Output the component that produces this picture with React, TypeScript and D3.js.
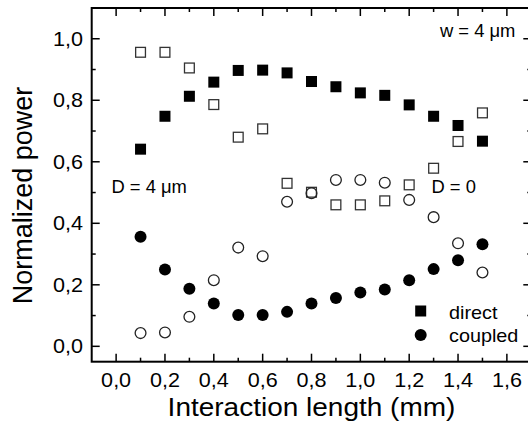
import React from "react";
import * as d3 from "d3";

const xs = [0.1, 0.2, 0.3, 0.4, 0.5, 0.6, 0.7, 0.8, 0.9, 1.0, 1.1, 1.2, 1.3, 1.4, 1.5];
const directD4 = [0.641, 0.748, 0.813, 0.859, 0.897, 0.898, 0.889, 0.861, 0.844, 0.824, 0.816, 0.785, 0.748, 0.718, 0.667];
const coupledD4 = [0.356, 0.25, 0.187, 0.139, 0.102, 0.102, 0.112, 0.139, 0.157, 0.175, 0.185, 0.215, 0.251, 0.28, 0.332];
const directD0 = [0.956, 0.956, 0.905, 0.786, 0.68, 0.707, 0.53, 0.501, 0.46, 0.46, 0.473, 0.525, 0.579, 0.666, 0.759];
const coupledD0 = [0.043, 0.045, 0.096, 0.215, 0.321, 0.293, 0.47, 0.498, 0.541, 0.541, 0.532, 0.476, 0.42, 0.335, 0.24];
const xMajor = [0, 0.2, 0.4, 0.6, 0.8, 1.0, 1.2, 1.4, 1.6];
const xMinor = [0.1, 0.3, 0.5, 0.7, 0.9, 1.1, 1.3, 1.5];
const yMajor = [0, 0.2, 0.4, 0.6, 0.8, 1.0];
const yMinor = [0.1, 0.3, 0.5, 0.7, 0.9];

const fmt = (v: number) => v.toFixed(1).replace(".", ",");

export default function App() {
  const W = 528, H = 434;
  const L = 91.7, R = 531.3, T = 8, B = 361.7;
  const x = d3.scaleLinear().domain([-0.1, 1.7]).range([L, R]);
  const y = d3.scaleLinear().domain([-0.05, 1.1]).range([B, T]);
  const font = "'Liberation Sans', Arial, sans-serif";
  const sq = 11, cr = 6;

  const HText = (p: { x: number; y: number; size: number; anchor?: string; children: any; s: number }) => (
    <text
      transform={`translate(${p.x},${p.y}) scale(${p.s},1)`}
      fontSize={p.size}
      textAnchor={p.anchor ?? "start"}
      fontFamily={font}
      fill="#000"
    >
      {p.children}
    </text>
  );

  return (
    <svg width={W} height={H} style={{ position: "absolute", left: 0, top: 0 }}>
      <rect x={0} y={0} width={W} height={H} fill="#fff" />
      <g stroke="#000" strokeWidth={1.5}>
        {xMajor.map((v) => (
          <g key={"xM" + v}>
            <line x1={x(v)} x2={x(v)} y1={B} y2={B - 8} />
            <line x1={x(v)} x2={x(v)} y1={T} y2={T + 8} />
          </g>
        ))}
        {xMinor.map((v) => (
          <g key={"xm" + v}>
            <line x1={x(v)} x2={x(v)} y1={B} y2={B - 4} />
            <line x1={x(v)} x2={x(v)} y1={T} y2={T + 4} />
          </g>
        ))}
        {yMajor.map((v) => (
          <g key={"yM" + v}>
            <line x1={L} x2={L + 8} y1={y(v)} y2={y(v)} />
            <line x1={R} x2={R - 8} y1={y(v)} y2={y(v)} />
          </g>
        ))}
        {yMinor.map((v) => (
          <g key={"ym" + v}>
            <line x1={L} x2={L + 4} y1={y(v)} y2={y(v)} />
            <line x1={R} x2={R - 4} y1={y(v)} y2={y(v)} />
          </g>
        ))}
      </g>
      <rect x={L} y={T} width={R - L} height={B - T} fill="none" stroke="#000" strokeWidth={2} />

      {xMajor.map((v) => (
        <HText key={"xl" + v} x={x(v)} y={387} size={20} anchor="middle" s={1.08}>
          {fmt(v)}
        </HText>
      ))}
      {yMajor.map((v) => (
        <HText key={"yl" + v} x={83} y={y(v) + 7} size={20} anchor="end" s={1.08}>
          {fmt(v)}
        </HText>
      ))}

      <HText x={311.5} y={416} size={25} anchor="middle" s={1.12}>
        Interaction length (mm)
      </HText>
      <text
        transform="translate(32,195.5) rotate(-90)"
        fontSize={27}
        textAnchor="middle"
        fontFamily={font}
      >
        Normalized power
      </text>

      {xs.map((v, i) => (
        <rect
          key={"od" + i}
          x={x(v) - sq / 2 + 0.6}
          y={y(directD0[i]) - sq / 2 + 0.6}
          width={sq - 1.2}
          height={sq - 1.2}
          fill="none"
          stroke="#333"
          strokeWidth={1.3}
        />
      ))}
      {xs.map((v, i) => (
        <circle
          key={"oc" + i}
          cx={x(v)}
          cy={y(coupledD0[i])}
          r={cr - 0.6}
          fill="none"
          stroke="#222"
          strokeWidth={1.3}
        />
      ))}
      {xs.map((v, i) => (
        <rect
          key={"fd" + i}
          x={x(v) - sq / 2}
          y={y(directD4[i]) - sq / 2}
          width={sq}
          height={sq}
          fill="#000"
        />
      ))}
      {xs.map((v, i) => (
        <circle key={"fc" + i} cx={x(v)} cy={y(coupledD4[i])} r={cr} fill="#000" />
      ))}

      <HText x={440} y={37} size={17.5} s={1.05}>w = 4 μm</HText>
      <HText x={111.5} y={193} size={17.5} s={1.05}>D = 4 μm</HText>
      <HText x={431.5} y={193} size={17.5} s={1.05}>D = 0</HText>

      <rect x={420.7 - sq / 2} y={311 - sq / 2} width={sq} height={sq} fill="#000" />
      <circle cx={420.7} cy={335} r={cr} fill="#000" />
      <HText x={449} y={318.5} size={18} s={1.1}>direct</HText>
      <HText x={449} y={341.5} size={18} s={1.1}>coupled</HText>
    </svg>
  );
}
